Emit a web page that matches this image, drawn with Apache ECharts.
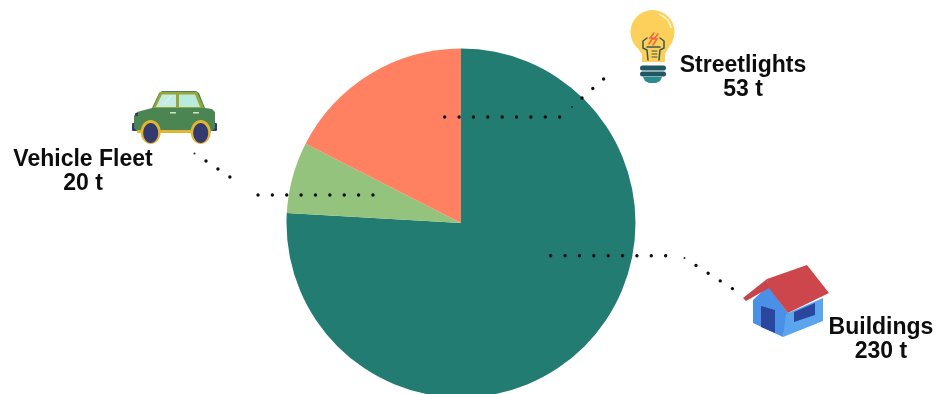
<!DOCTYPE html>
<html>
<head>
<meta charset="utf-8">
<style>html,body{margin:0;padding:0;background:#fff}#chart{width:936px;height:394px}</style>
<script src="https://cdn.jsdelivr.net/npm/echarts@6/dist/echarts.min.js"></script>
</head>
<body>
<div id="chart"></div>
<script>
// Annual emissions by source, tonnes
const categories = ['Buildings', 'Vehicle Fleet', 'Streetlights'];
const tonnes = [230, 20, 53];
const sliceColors = ['#237c71', '#93c37c', '#ff8162'];

// Where each caption sits (centre of the two-line block)
const captionAnchors = [[881, 339.5], [83, 171.5], [743, 77.5]];

// Dotted leaders, each a list of runs
const leaderRuns = [
  [[[550.7, 255.7], [666.5, 255.7]], [[696, 265.5], [733, 289]]],
  [[[206, 161], [241.5, 184.8]], [[258, 195], [374, 195]]],
  [[[444.7, 117], [560.5, 117]], [[582, 98], [614, 70]]]
];
// Faint specks where each leader bends
const leaderSpecks = [[684.5, 258], [194.5, 153.5], [572, 107]];

const chart = echarts.init(document.getElementById('chart'), null, { renderer: 'canvas' });

const dotStyle = { stroke: '#0b0b0b', lineWidth: 3.4, lineCap: 'round', lineDash: [0, 14.37], fill: null };
const leaders = [];
leaderRuns.forEach(runs => runs.forEach(run => {
  leaders.push({ type: 'polyline', z: 20, silent: true, shape: { points: run }, style: dotStyle });
}));
leaderSpecks.forEach(([cx, cy]) => {
  leaders.push({ type: 'circle', z: 20, silent: true, shape: { cx, cy, r: 1 }, style: { fill: '#222222' } });
});

function poly(points, fill, smooth) {
  return { type: 'polygon', shape: { points, smooth: smooth || 0 }, style: { fill } };
}
function stroke(points, color, lineWidth, smooth) {
  return { type: 'polyline', shape: { points, smooth: smooth || 0 }, style: { stroke: color, lineWidth, lineCap: 'round', fill: null } };
}
function disc(cx, cy, rx, ry, fill) {
  return { type: 'ellipse', shape: { cx, cy, rx, ry }, style: { fill } };
}
function rrect(x, y, width, height, r, fill) {
  return { type: 'rect', shape: { x, y, width, height, r }, style: { fill } };
}

const car = {
  type: 'group', z: 20, silent: true,
  children: [
    rrect(132, 123, 11, 8, 1, '#2f3a6b'),
    rrect(207, 123, 10, 8, 1, '#2f3a6b'),
    poly([[152, 108], [159, 93], [162, 91], [196, 91], [199, 93], [205, 108], [212, 109], [215, 112],
          [215, 128], [212, 131], [137, 131], [134, 128], [134, 116], [137, 112]], '#4b8552'),
    poly([[153, 108], [160, 92], [197, 92], [204, 108]], '#97a53f'),
    poly([[156, 107], [162, 94.5], [176, 94.5], [176, 107]], '#c4ece2'),
    poly([[179, 94.5], [195, 94.5], [200, 107], [179, 107]], '#b9ebdd'),
    stroke([[164, 104], [171, 96]], '#e6f7f2', 1),
    rrect(137, 130, 74, 3, 1, '#e3b530'),
    disc(150.7, 132, 10, 12, '#e3b530'),
    disc(200.7, 132, 10, 12, '#e3b530'),
    disc(150.7, 133, 7.5, 10, '#333a6e'),
    disc(200.7, 133, 7.5, 10, '#333a6e'),
    rrect(170, 112, 6, 1.5, 0.5, '#d8e6c8'),
    rrect(193, 112, 6, 1.5, 0.5, '#d8e6c8'),
    rrect(135, 113, 3, 3, 1, '#2f3a6b')
  ]
};

const bulb = {
  type: 'group', z: 20, silent: true,
  children: [
    { type: 'circle', shape: { cx: 652.5, cy: 32, r: 22 }, style: { fill: '#fdd05c' } },
    poly([[633, 42], [642, 54], [642, 62], [665, 62], [665, 54], [672, 42]], '#fdd05c'),
    { type: 'arc', shape: { cx: 652.5, cy: 32, r: 19, startAngle: -1.2, endAngle: -0.25, clockwise: true }, style: { stroke: '#fff4cf', lineWidth: 1.6, lineCap: 'round', fill: null } },
    stroke([[648, 60], [647, 50], [643, 48], [643, 41], [647, 38]], '#3a5a4c', 1.5),
    stroke([[659, 60], [660, 50], [664, 48], [664, 41], [660, 38]], '#3a5a4c', 1.5),
    stroke([[647, 47], [660, 47]], '#3a5a4c', 1.5),
    stroke([[652, 51], [657, 51]], '#3a5a4c', 1.1),
    stroke([[652, 54], [657, 54]], '#3a5a4c', 1.1),
    stroke([[652, 57], [657, 57]], '#3a5a4c', 1.1),
    stroke([[654, 33], [650, 38], [653, 38], [649, 44]], '#ee6a3c', 1.6),
    stroke([[658, 34], [654, 39], [657, 39], [653, 45]], '#ee6a3c', 1.6),
    rrect(640, 65.5, 26, 5, 2.5, '#1f5862'),
    rrect(640, 71.5, 26, 5, 2.5, '#1f5862'),
    poly([[643, 77], [662, 77], [660, 81], [656, 83], [649, 83], [645, 81]], '#2a8b90')
  ]
};

const house = {
  type: 'group', z: 20, silent: true,
  children: [
    poly([[753, 300], [768, 286], [788, 313], [783, 337], [753, 323]], '#4a90e6'),
    poly([[786, 314], [823, 298], [823, 321], [783, 337]], '#5aa5ee'),
    poly([[761, 306], [775, 310], [775, 333], [761, 327]], '#2a469d'),
    poly([[794, 312], [815, 303], [815, 315], [794, 322]], '#2a469d'),
    poly([[743, 298], [767, 279], [769, 288], [746, 301]], '#c9434a'),
    poly([[767, 279], [807, 265], [829, 293], [788, 313], [768, 287]], '#cd464c')
  ]
};

chart.setOption({
  animation: false,
  backgroundColor: '#ffffff',
  series: [{
    type: 'pie',
    silent: true,
    center: [461, 223],
    radius: [0, 174.5],
    startAngle: 90,
    clockwise: true,
    avoidLabelOverlap: false,
    data: categories.map((name, i) => ({ name, value: tonnes[i], itemStyle: { color: sliceColors[i] } })),
    labelLine: { show: false },
    label: {
      show: true,
      formatter: '{b}\n{c} t',
      fontFamily: '"Liberation Sans", Arial, sans-serif',
      fontWeight: 'bold',
      fontSize: 23,
      lineHeight: 24,
      color: '#0d0d0d',
      align: 'center'
    },
    labelLayout: params => ({
      x: captionAnchors[params.dataIndex][0],
      y: captionAnchors[params.dataIndex][1],
      align: 'center',
      verticalAlign: 'middle'
    })
  }],
  graphic: { elements: leaders.concat([car, bulb, house]) }
});
</script>
</body>
</html>
